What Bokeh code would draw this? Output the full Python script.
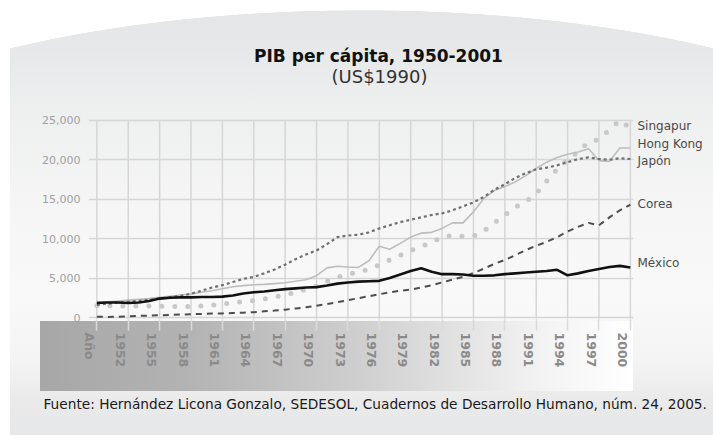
from bokeh.plotting import figure
from bokeh.models import (FixedTicker, NumeralTickFormatter, LinearAxis, Title, Label,
                          Range1d, InlineStyleSheet)
from bokeh.embed import file_html
from bokeh.resources import INLINE

# ---------------- data ----------------
years = list(range(1950, 2002))
singapur = [1500, 1500, 1500, 1450, 1450, 1450, 1450, 1400, 1400, 1400,
            1450, 1550, 1700, 1900, 2000, 2150, 2350, 2600, 2850, 3200,
            3600, 4000, 4600, 5100, 5500, 5800, 6100, 6700, 7300, 7900,
            8500, 9000, 9500, 10200, 10400, 10300, 10300, 11000, 12000, 13000,
            14000, 14700, 15700, 17300, 18800, 20000, 21000, 22200, 22600, 23800,
            25000, 24000]
hong_kong = [2000, 2000, 2100, 2200, 2300, 2400, 2550, 2700, 2850, 3000,
             3200, 3400, 3650, 3900, 4050, 4150, 4200, 4300, 4400, 4600,
             4800, 5300, 6300, 6500, 6400, 6350, 7200, 9050, 8650, 9400,
             10200, 10700, 10800, 11300, 12000, 12000, 13400, 15100, 16100, 16600,
             17200, 18000, 18900, 19700, 20300, 20700, 21000, 21400, 19900, 19800,
             21500, 21500]
japon = [1600, 1750, 1900, 2000, 2100, 2250, 2400, 2600, 2750, 3000,
         3400, 3800, 4100, 4500, 4900, 5150, 5600, 6100, 6700, 7400,
         8000, 8500, 9300, 10200, 10400, 10500, 10800, 11300, 11700, 12100,
         12400, 12700, 13000, 13200, 13600, 14100, 14600, 15300, 16200, 16900,
         17700, 18300, 18800, 19000, 19300, 19700, 20100, 20300, 20100, 20000,
         20200, 20100]
corea = [100, 80, 100, 150, 200, 250, 280, 330, 380, 420,
         450, 500, 520, 580, 620, 680, 780, 880, 1000, 1150,
         1300, 1500, 1700, 1950, 2200, 2450, 2700, 2950, 3200, 3400,
         3550, 3800, 4100, 4450, 4800, 5150, 5650, 6200, 6800, 7300,
         7900, 8550, 9100, 9600, 10200, 10900, 11500, 12000, 11700, 12700,
         13600, 14300]
mexico = [1850, 1900, 1900, 1850, 1900, 2100, 2400, 2500, 2550, 2550,
          2600, 2600, 2650, 2800, 3050, 3200, 3300, 3450, 3600, 3700,
          3800, 3850, 4050, 4300, 4450, 4550, 4600, 4650, 5000, 5450,
          5900, 6250, 5800, 5500, 5500, 5450, 5300, 5300, 5350, 5500,
          5600, 5700, 5800, 5900, 6050, 5350, 5600, 5900, 6150, 6400,
          6550, 6350]

series_names = ["Singapur", "Hong Kong", "Japón", "Corea", "México"]
y_ticks = [0, 5000, 10000, 15000, 20000, 25000]
grid_years = list(range(1950, 2002, 3))
label_years = list(range(1949, 2001, 3))
x_labels = ["Año"] + [str(y) for y in label_years[1:]]

title_text = "PIB per cápita, 1950-2001"
subtitle_text = "(US$1990)"
source_text = ("Fuente: Hernández Licona Gonzalo, SEDESOL, Cuadernos de Desarrollo "
               "Humano, núm. 24, 2005.")

# ---------------- figure geometry (pixels) ----------------
W, H = 713, 435
FL, FR, FT, FB = 88, 633, 0, 322
X0, X1 = 1949.2, 2001.3
Y0, Y1 = -251, 40201


def dx(px):
    return X0 + (px - FL) * (X1 - X0) / (FR - FL)


def dy(py):
    return Y0 + (FB - py) * (Y1 - Y0) / (FB - FT)


css = """
:host {
  background:
    radial-gradient(ellipse 600px 200px at 362px 210px, rgba(255,255,255,0) 99.7%, #ffffff 100%)
      0px 0px / 713px 60px no-repeat,
    linear-gradient(#ffffff, #ffffff) 0px 0px / 10px 435px no-repeat,
    linear-gradient(to right, #a7a7a7 0%, #b3b3b3 25%, #d0d0d0 55%, #f3f3f3 85%, #ffffff 100%)
      40px 321px / 593px 70px no-repeat,
    linear-gradient(to bottom, #e4e5e6 0px, #e7e8e9 50px, #eeefef 110px, #f5f5f5 200px,
      #f9f9f9 300px, #f4f4f4 360px, #eaeaeb 400px, #e6e7e8 435px);
}
"""

p = figure(width=W, height=H, output_backend="svg", toolbar_location=None,
           x_range=Range1d(X0, X1), y_range=Range1d(Y0, Y1),
           min_border_left=FL, min_border_right=W - FR,
           min_border_top=FT, min_border_bottom=H - FB, title=None)
p.stylesheets = [InlineStyleSheet(css=css)]
p.outline_line_color = None
p.border_fill_color = None
p.background_fill_color = None

# horizontal grid lines
p.ygrid.ticker = FixedTicker(ticks=y_ticks)
p.ygrid.grid_line_color = "#d6d6d6"
p.ygrid.grid_line_width = 1.5
# vertical grid lines, limited to the value range
p.xgrid.visible = False
p.segment(x0=grid_years, x1=grid_years, y0=[Y0] * len(grid_years),
          y1=[y_ticks[-1]] * len(grid_years), line_color="#d6d6d6", line_width=1.5)

# y axis
ya = p.yaxis[0]
ya.ticker = FixedTicker(ticks=y_ticks)
ya.formatter = NumeralTickFormatter(format="0,0")
ya.axis_line_color = None
ya.major_tick_line_color = None
ya.minor_tick_line_color = None
ya.major_label_standoff = 2
ya.major_label_text_font = "DejaVu Sans"
ya.major_label_text_font_size = "11px"
ya.major_label_text_color = "#a0a0a0"

# x axis: labels at the years, minor ticks continuing the grid lines into the band
label_pos = [y + 0.25 for y in label_years]
xa = p.xaxis[0]
xa.ticker = FixedTicker(ticks=label_pos, minor_ticks=grid_years)
xa.major_label_overrides = {pos: lab for pos, lab in zip(label_pos, x_labels)}
xa.axis_line_color = None
xa.major_tick_line_color = None
xa.major_tick_in = 0
xa.major_tick_out = 11
xa.minor_tick_in = 0
xa.minor_tick_out = 11
xa.minor_tick_line_color = "#dadada"
xa.minor_tick_line_width = 1.5
xa.major_label_orientation = "vertical"
xa.major_label_standoff = 2
xa.major_label_text_font = "DejaVu Sans"
xa.major_label_text_font_style = "bold"
xa.major_label_text_font_size = "12.5px"
xa.major_label_text_color = "#8a8a8a"

# series
p.line(years, singapur, line_color="#c8c8c8", line_width=5, line_dash="0 13", line_cap="round")
p.line(years, hong_kong, line_color="#bdbdbd", line_width=1.6)
p.line(years, japon, line_color="#707070", line_width=2.2, line_dash="3 3")
p.line(years, corea, line_color="#4d4d4d", line_width=2, line_dash="6 5")
p.line(years, mexico, line_color="#111111", line_width=2.6)

# series names as a right-hand axis, next to each line end
lasts = [singapur[-1], hong_kong[-1], japon[-1], corea[-1], mexico[-1]]
shifts = [250, 500, -250, 100, 550]
name_pos = [v + s for v, s in zip(lasts, shifts)]
ra = LinearAxis(ticker=FixedTicker(ticks=name_pos),
                major_label_overrides={pos: n for pos, n in zip(name_pos, series_names)})
ra.axis_line_color = None
ra.major_tick_line_color = None
ra.minor_tick_line_color = None
ra.major_tick_out = 0
ra.major_tick_in = 0
ra.major_label_standoff = 4
ra.major_label_text_font = "DejaVu Sans"
ra.major_label_text_font_size = "12px"
ra.major_label_text_color = "#4a4a4a"
p.add_layout(ra, "right")

# title and subtitle
p.add_layout(Label(x=dx(378), y=dy(56), text=title_text, text_font="DejaVu Sans",
                   text_font_style="bold", text_font_size="17px", text_color="#111111",
                   text_align="center", text_baseline="middle"))
p.add_layout(Label(x=dx(379), y=dy(77), text=subtitle_text, text_font="DejaVu Sans",
                   text_font_size="18px", text_color="#333333",
                   text_align="center", text_baseline="middle"))

# source line
p.add_layout(Title(text=source_text, align="left", offset=-45, standoff=47,
                   text_font="DejaVu Sans", text_font_style="normal",
                   text_font_size="13.7px", text_color="#1a1a1a"), "below")

open("out.html", "w").write(file_html(p, INLINE))
